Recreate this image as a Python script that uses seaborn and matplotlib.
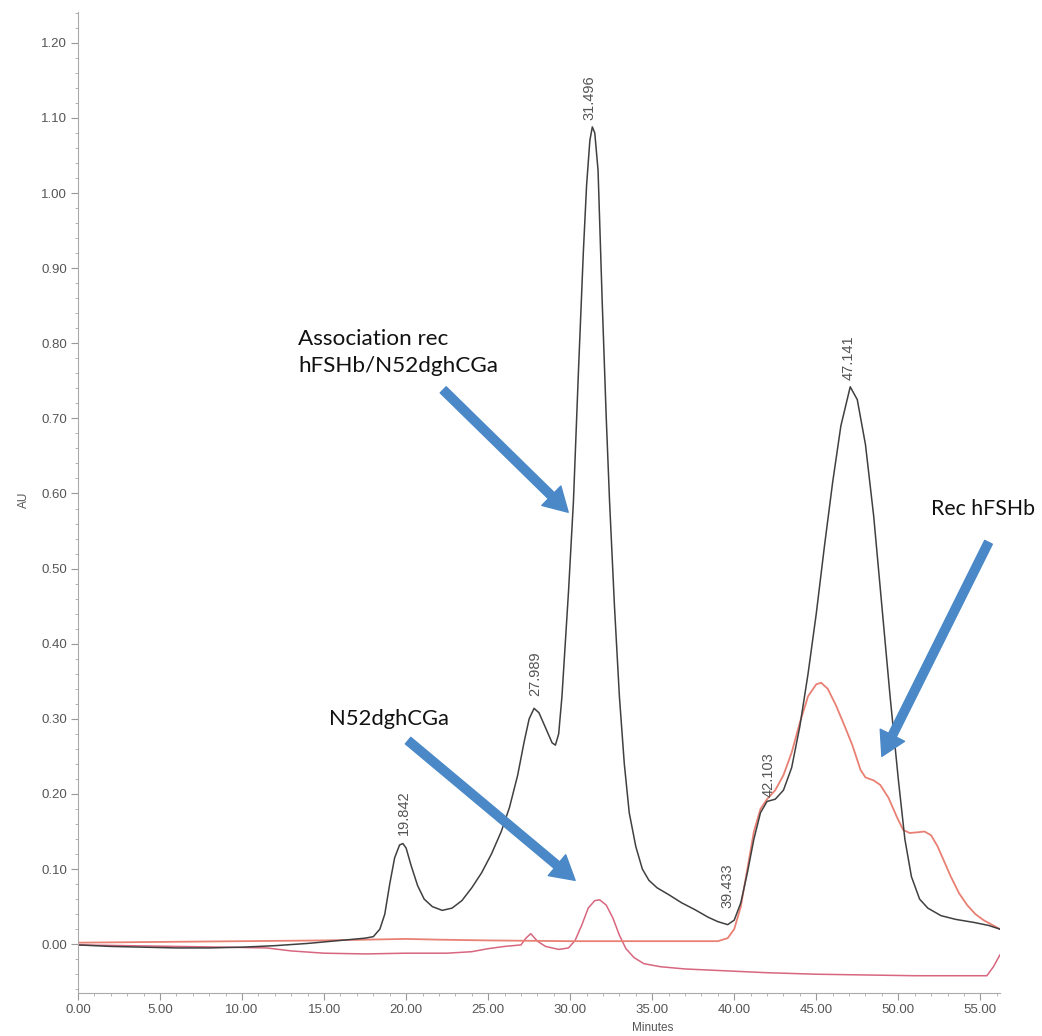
import numpy as np
import pandas as pd
import matplotlib
matplotlib.use("Agg")
import matplotlib.pyplot as plt
import seaborn as sns
from matplotlib.ticker import MultipleLocator, FormatStrFormatter

# ---------------- data ----------------
assoc_time = [0.0, 2.0, 4.0, 6.0, 8.0, 10.0, 12.0, 14.0, 16.0, 17.5, 18.0, 18.4, 18.7, 19.0,
              19.3, 19.6, 19.8, 20.0, 20.3, 20.7, 21.1, 21.6, 22.2, 22.8, 23.4, 24.0, 24.6,
              25.2, 25.8, 26.3, 26.8, 27.2, 27.5, 27.8, 28.1, 28.5, 28.9, 29.1, 29.3, 29.5,
              29.7, 29.9, 30.2, 30.5, 30.8, 31.0, 31.2, 31.35, 31.5, 31.7, 31.95, 32.2, 32.4,
              32.7, 33.0, 33.3, 33.6, 34.0, 34.4, 34.8, 35.3, 36.0, 36.8, 37.6, 38.4, 39.0,
              39.6, 40.0, 40.4, 40.8, 41.2, 41.6, 42.0, 42.5, 43.0, 43.5, 44.0, 44.5, 45.0,
              45.5, 46.0, 46.5, 47.07, 47.5, 48.0, 48.5, 49.0, 49.5, 50.0, 50.4, 50.8, 51.3,
              51.8, 52.6, 53.5, 54.6, 55.5, 56.2]
assoc_au = [-0.001, -0.003, -0.004, -0.005, -0.005, -0.004, -0.002, 0.001, 0.005, 0.008, 0.010,
            0.020, 0.040, 0.080, 0.115, 0.132, 0.134, 0.128, 0.105, 0.078, 0.060, 0.050, 0.045,
            0.048, 0.058, 0.075, 0.095, 0.120, 0.150, 0.182, 0.225, 0.270, 0.300, 0.314, 0.308,
            0.288, 0.268, 0.265, 0.280, 0.330, 0.400, 0.470, 0.590, 0.760, 0.920, 1.010, 1.070,
            1.088, 1.080, 1.030, 0.857, 0.700, 0.590, 0.450, 0.330, 0.240, 0.175, 0.130, 0.100,
            0.085, 0.075, 0.066, 0.055, 0.046, 0.036, 0.030, 0.026, 0.032, 0.055, 0.095, 0.140,
            0.175, 0.190, 0.193, 0.205, 0.235, 0.290, 0.360, 0.440, 0.530, 0.615, 0.690, 0.742,
            0.725, 0.665, 0.570, 0.450, 0.330, 0.220, 0.140, 0.090, 0.060, 0.048, 0.038, 0.033,
            0.029, 0.025, 0.020]

fshb_time = [0, 5, 10, 15, 20, 22, 25, 30, 35, 39.0, 39.6, 40.0, 40.4, 40.8, 41.2, 41.6, 42.0,
             42.5, 43.0, 43.5, 44.0, 44.5, 45.0, 45.3, 45.7, 46.2, 46.7, 47.2, 47.7, 48.0, 48.5,
             48.9, 49.4, 49.9, 50.3, 50.7, 51.2, 51.6, 52.0, 52.4, 52.8, 53.2, 53.7, 54.2, 54.7,
             55.2, 55.7, 56.2]
fshb_au = [0.002, 0.003, 0.004, 0.005, 0.007, 0.006, 0.005, 0.004, 0.004, 0.004, 0.008, 0.020,
           0.050, 0.100, 0.150, 0.180, 0.193, 0.205, 0.225, 0.255, 0.295, 0.330, 0.346, 0.348,
           0.340, 0.318, 0.292, 0.265, 0.232, 0.222, 0.218, 0.212, 0.195, 0.170, 0.152, 0.148,
           0.149, 0.150, 0.145, 0.130, 0.110, 0.090, 0.068, 0.052, 0.040, 0.032, 0.026, 0.020]

cga_time = [0, 3, 6, 9, 11.5, 13, 15, 17.5, 20, 22.5, 24, 25, 26, 27.0, 27.3, 27.6, 28.0, 28.5,
            29.3, 29.9, 30.3, 30.7, 31.1, 31.5, 31.8, 32.2, 32.6, 33.0, 33.4, 33.9, 34.5, 35.5,
            37, 39, 42, 45, 48, 51, 54, 55.4, 55.8, 56.2]
cga_au = [-0.001, -0.002, -0.003, -0.004, -0.005, -0.009, -0.012, -0.013, -0.012, -0.012, -0.010,
          -0.006, -0.003, -0.001, 0.008, 0.014, 0.004, -0.003, -0.007, -0.005, 0.005, 0.025,
          0.048, 0.058, 0.059, 0.052, 0.035, 0.012, -0.006, -0.018, -0.026, -0.030, -0.033,
          -0.035, -0.038, -0.040, -0.041, -0.042, -0.042, -0.042, -0.030, -0.014]

peak_labels = ["19.842", "27.989", "31.496", "39.433", "42.103", "47.141"]
x_ticks = [0, 5, 10, 15, 20, 25, 30, 35, 40, 45, 50, 55]
y_ticks = [0.0, 0.1, 0.2, 0.3, 0.4, 0.5, 0.6, 0.7, 0.8, 0.9, 1.0, 1.1, 1.2]

# ---------------- layout ----------------
label_pos = [(19.88, 0.145), (27.87, 0.330), (31.2, 1.097), (39.6, 0.048), (42.07, 0.196), (47.0, 0.751)]

sns.set_theme(style="white")
plt.rcParams['font.family'] = ['Liberation Sans', 'DejaVu Sans']

fig = plt.figure(figsize=(10.42, 10.36), dpi=100)
ax = fig.add_axes([78/1042, 1-993/1036, (1000-78)/1042, (993-12)/1036])

df_a = pd.DataFrame({"Minutes": assoc_time, "AU": assoc_au})
df_f = pd.DataFrame({"Minutes": fshb_time, "AU": fshb_au})
df_c = pd.DataFrame({"Minutes": cga_time, "AU": cga_au})

sns.lineplot(data=df_c, x="Minutes", y="AU", ax=ax, color="#d8667e", lw=1.1, estimator=None, sort=False)
sns.lineplot(data=df_f, x="Minutes", y="AU", ax=ax, color="#e98074", lw=1.3, estimator=None, sort=False)
sns.lineplot(data=df_a, x="Minutes", y="AU", ax=ax, color="#404040", lw=1.1, estimator=None, sort=False)

ax.set_xlim(0, 56.2)
ax.set_ylim(-0.065, 1.241)
ax.set_xticks(x_ticks)
ax.set_yticks(y_ticks)
ax.xaxis.set_major_formatter(FormatStrFormatter('%.2f'))
ax.yaxis.set_major_formatter(FormatStrFormatter('%.2f'))
ax.xaxis.set_minor_locator(MultipleLocator(1))
ax.yaxis.set_minor_locator(MultipleLocator(0.02))
ax.tick_params(axis='both', which='major', direction='out', length=5, width=0.8,
               color='#999999', labelsize=9.5, labelcolor='#555555', pad=3,
               bottom=True, left=True)
ax.tick_params(axis='both', which='minor', direction='out', length=2.5, width=0.6,
               color='#aaaaaa', bottom=True, left=True)
for s in ['top', 'right']:
    ax.spines[s].set_visible(False)
for s in ['left', 'bottom']:
    ax.spines[s].set_color('#aaaaaa')
    ax.spines[s].set_linewidth(0.8)

ax.set_xlabel("Minutes", fontsize=8.5, color='#555555')
ax.set_ylabel("AU", fontsize=8.5, color='#555555')
ax.xaxis.set_label_coords(0.6236, -0.030)
ax.yaxis.set_label_coords(-0.052, 0.5026)

for txt, (px, py) in zip(peak_labels, label_pos):
    ax.text(px, py, txt, rotation=90, ha='center', va='bottom', fontsize=10.5, color='#555555')

ann_font = ['Lato', 'DejaVu Sans']
ann_kw = dict(family=ann_font, ha='left', va='baseline', color='#111111')
ax.text(13.41, 0.7976, "Association rec", fontsize=16.2, **ann_kw)
ax.text(13.41, 0.7617, "hFSHb/N52dghCGa", fontsize=16.2, **ann_kw)
ax.text(15.3, 0.2916, "N52dghCGa", fontsize=15.8, **ann_kw)
ax.text(52.0, 0.571, "Rec hFSHb", fontsize=15.3, **ann_kw)

arrow_color = '#4a88c7'
astyle = "simple,head_length=1.0,head_width=1.15,tail_width=0.36"
for tail, head in [((22.26, 0.738), (29.88, 0.575)),
                   ((20.12, 0.271), (30.3, 0.085)),
                   ((55.5, 0.535), (49.0, 0.25))]:
    ax.annotate("", xy=head, xytext=tail,
                arrowprops=dict(arrowstyle=astyle, color=arrow_color, mutation_scale=17,
                                shrinkA=0, shrinkB=0))

fig.savefig("out.png", dpi=100, facecolor='white')
